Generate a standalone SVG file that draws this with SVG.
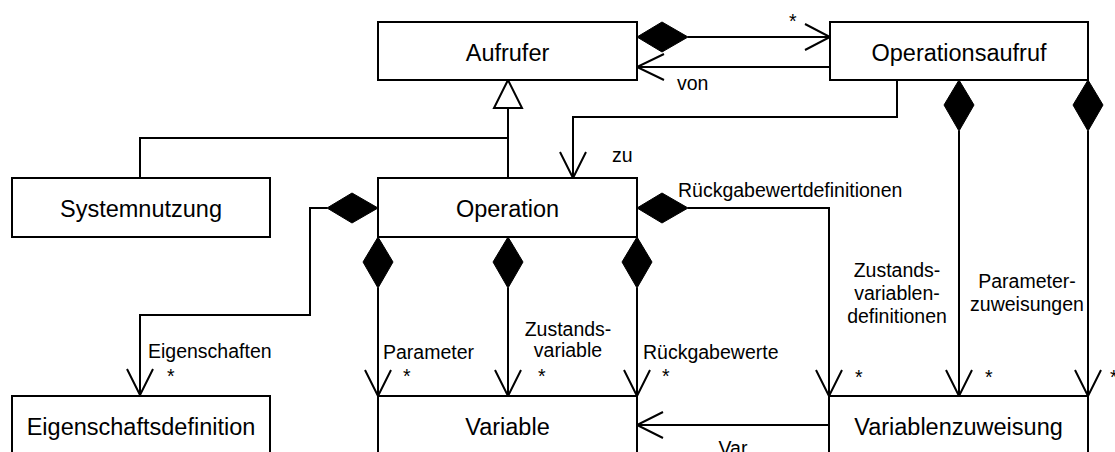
<svg xmlns="http://www.w3.org/2000/svg" width="1115" height="452" viewBox="0 0 1115 452">
<style>
.box{fill:#fff;stroke:#000;stroke-width:2}
.bt{font-family:"Liberation Sans",Arial,sans-serif;font-size:23.5px;fill:#000;text-anchor:middle}
.lb{font-family:"Liberation Sans",Arial,sans-serif;font-size:19.5px;fill:#000}
.c{text-anchor:middle}
.ln{fill:none;stroke:#000;stroke-width:2}
.dm{fill:#000;stroke:#000;stroke-width:1}
.tri{fill:#fff;stroke:#000;stroke-width:2}
</style>
<rect width="1115" height="452" fill="#fff"/>
<g id="connectors">
  <!-- Aufrufer -> Operationsaufruf (composition) -->
  <polygon class="dm" points="637,37 662,22 688,37 662,52"/>
  <path class="ln" d="M688,37 H830 M805,24 L830,37 L805,50"/>
  <!-- von -->
  <path class="ln" d="M830,67 H637 M664,54 L637,67 L664,80"/>
  <!-- generalization -->
  <path class="ln" d="M508,108 V178 M140,178 V138 H508"/>
  <polygon class="tri" points="508,80 494,108 522,108"/>
  <!-- zu -->
  <path class="ln" d="M897,80 V117 H573 V178 M560,152 L573,178 L586,152"/>
  <!-- Eigenschaften -->
  <polygon class="dm" points="378,208 352,193 327,208 352,223"/>
  <path class="ln" d="M327,208 H310 V315 H140 V395 M127,369 L140,395 L153,369"/>
  <!-- Operation bottom compositions -->
  <polygon class="dm" points="378,237 393,262 378,288 363,262"/>
  <path class="ln" d="M378,288 V396 M365,370 L378,396 L391,370"/>
  <polygon class="dm" points="508,237 523,262 508,288 493,262"/>
  <path class="ln" d="M508,288 V396 M495,370 L508,396 L521,370"/>
  <polygon class="dm" points="637,237 652,262 637,288 622,262"/>
  <path class="ln" d="M637,288 V396 M624,370 L637,396 L650,370"/>
  <!-- Rückgabewertdefinitionen -->
  <polygon class="dm" points="637,208 662,193 688,208 662,223"/>
  <path class="ln" d="M688,208 H829 V396 M816,370 L829,396 L842,370"/>
  <!-- Operationsaufruf compositions -->
  <polygon class="dm" points="959,80 974,105 959,131 944,105"/>
  <path class="ln" d="M959,131 V396 M946,370 L959,396 L972,370"/>
  <polygon class="dm" points="1088,80 1103,105 1088,131 1073,105"/>
  <path class="ln" d="M1088,131 V396 M1075,370 L1088,396 L1101,370"/>
  <!-- Var -->
  <path class="ln" d="M829,425 H637 M663,412 L637,425 L663,438"/>
  <!-- labels -->
  <text class="lb" x="789" y="28">*</text>
  <text class="lb" x="677" y="90">von</text>
  <text class="lb" x="612" y="162">zu</text>
  <text class="lb" x="678" y="197">Rückgabewertdefinitionen</text>
  <text class="lb" x="148" y="358">Eigenschaften</text>
  <text class="lb" x="167" y="383">*</text>
  <text class="lb" x="383" y="359">Parameter</text>
  <text class="lb" x="403" y="383">*</text>
  <text class="lb c" x="568" y="336">Zustands-</text>
  <text class="lb c" x="568" y="357">variable</text>
  <text class="lb" x="538" y="383">*</text>
  <text class="lb" x="643" y="359">Rückgabewerte</text>
  <text class="lb" x="662" y="383">*</text>
  <text class="lb c" x="897" y="277">Zustands-</text>
  <text class="lb c" x="897" y="300">variablen-</text>
  <text class="lb c" x="897" y="323">definitionen</text>
  <text class="lb c" x="1027" y="288">Parameter-</text>
  <text class="lb c" x="1027" y="311">zuweisungen</text>
  <text class="lb" x="855" y="384">*</text>
  <text class="lb" x="985" y="384">*</text>
  <text class="lb" x="1110" y="384">*</text>
  <text class="lb c" x="733" y="455">Var</text>
</g>
<g id="aufrufer"><rect class="box" x="378" y="22" width="259" height="58"/><text class="bt" x="507.5" y="61">Aufrufer</text></g>
<g id="operationsaufruf"><rect class="box" x="830" y="22" width="258" height="58"/><text class="bt" x="959" y="61">Operationsaufruf</text></g>
<g id="systemnutzung"><rect class="box" x="12" y="178" width="258" height="59"/><text class="bt" x="141" y="217">Systemnutzung</text></g>
<g id="operation"><rect class="box" x="378" y="178" width="259" height="59"/><text class="bt" x="507.5" y="217">Operation</text></g>
<g id="eigenschaftsdefinition"><rect class="box" x="12" y="396" width="258" height="80"/><text class="bt" x="141" y="435">Eigenschaftsdefinition</text></g>
<g id="variable"><rect class="box" x="378" y="396" width="259" height="80"/><text class="bt" x="507.5" y="435">Variable</text></g>
<g id="variablenzuweisung"><rect class="box" x="829" y="396" width="259" height="80"/><text class="bt" x="958.5" y="435">Variablenzuweisung</text></g>
</svg>
